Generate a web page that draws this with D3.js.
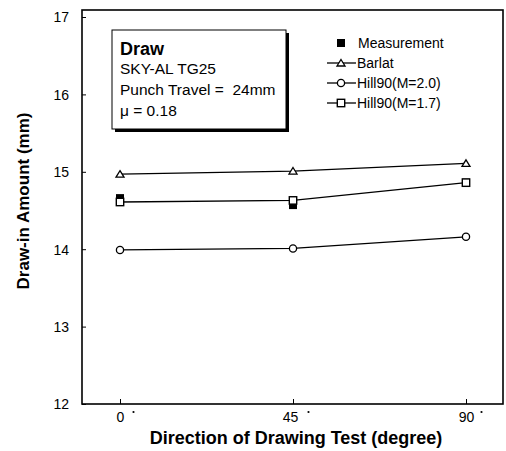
<!DOCTYPE html>
<html><head><meta charset="utf-8">
<script src="https://cdn.jsdelivr.net/npm/d3@7"></script>
<style>body{margin:0;background:#fff}svg{display:block}text{font-family:"Liberation Sans",Arial,sans-serif;fill:#000;white-space:pre}</style>
</head><body><svg id="c" width="506" height="451"></svg>
<script>
const angles = [0, 45, 90];
const measurement = [14.66, 14.57, 14.86];
const barlat = [14.97, 15.01, 15.11];
const hill20 = [13.99, 14.01, 14.16];
const hill17 = [14.61, 14.63, 14.86];
const yTicks = [12, 13, 14, 15, 16, 17];
const xTicks = [0, 45, 90];
const infoTitle = "Draw";
const infoLines = ["SKY-AL TG25", "Punch Travel =  24mm", "\u03bc = 0.18"];
const legendLabels = ["Measurement", "Barlat", "Hill90(M=2.0)", "Hill90(M=1.7)"];

const svg = d3.select("#c");
const x = d3.scaleLinear().domain([0, 90]).range([120, 466]);
const y = d3.scaleLinear().domain([12, 17]).range([404, 17]);

// frame
svg.append("rect").attr("x", 82).attr("y", 10).attr("width", 421).attr("height", 394)
  .attr("fill", "none").attr("stroke", "#000").attr("stroke-width", 1.6);

// y axis
const ya = svg.append("g").attr("transform", "translate(82,0)")
  .call(d3.axisRight(y).tickValues(yTicks).tickSize(4).tickFormat(d3.format("d")));
ya.select(".domain").remove();
ya.selectAll("line").attr("stroke-width", 1);
ya.selectAll("text").attr("x", -13).attr("text-anchor", "end").attr("font-size", 14).attr("dy", "0.35em");

// x axis
const xa = svg.append("g").attr("transform", "translate(0,404)")
  .call(d3.axisTop(x).tickValues(xTicks).tickSize(5).tickFormat(d3.format("d")));
xa.select(".domain").remove();
xa.selectAll("line").attr("stroke-width", 1);
xa.selectAll("text").attr("y", 13).attr("dy", "0.35em").attr("font-size", 14).attr("dx", d => d === 45 ? -3 : 0);
xa.selectAll(".tick").append("circle").attr("r", 1.1).attr("fill", "#000")
  .attr("cx", d => d === 0 ? 13 : 15).attr("cy", 8);

// axis titles
svg.append("text").attr("x", 296).attr("y", 444).attr("text-anchor", "middle")
  .attr("font-weight", "bold").attr("font-size", 18).text("Direction of Drawing Test (degree)");
svg.append("text").attr("transform", "translate(29,201) rotate(-90)").attr("text-anchor", "middle")
  .attr("font-weight", "bold").attr("font-size", 17).text("Draw-in Amount (mm)");

// info box with shadow
svg.append("rect").attr("x", 115).attr("y", 33).attr("width", 174).attr("height", 99).attr("fill", "#000");
svg.append("rect").attr("x", 112).attr("y", 30).attr("width", 174).attr("height", 99)
  .attr("fill", "#fff").attr("stroke", "#000").attr("stroke-width", 1);
svg.append("text").attr("x", 120).attr("y", 55).attr("font-weight", "bold").attr("font-size", 18).text(infoTitle);
svg.selectAll(".info").data(infoLines).enter().append("text")
  .attr("x", 120).attr("y", (d, i) => 74 + i * 21).attr("font-size", 15.5).text(d => d);

// lines
const line = d3.line().x((d, i) => x(angles[i])).y(d => y(d));
const series = [barlat, hill20, hill17];
svg.selectAll(".ln").data(series).enter().append("path")
  .attr("d", d => line(d)).attr("fill", "none").attr("stroke", "#000").attr("stroke-width", 1.3);

// measurement filled squares
svg.selectAll(".meas").data(measurement).enter().append("rect")
  .attr("x", (d, i) => x(angles[i]) - 4).attr("y", d => y(d) - 4)
  .attr("width", 8).attr("height", 8).attr("fill", "#000");

function triangle(g, cx, cy) {
  g.append("path").attr("d", "M0,-3.5L4,3L-4,3Z").attr("transform", `translate(${cx},${cy})`)
    .attr("fill", "#fff").attr("stroke", "#000").attr("stroke-width", 1.3);
}
function circ(g, cx, cy) {
  g.append("circle").attr("cx", cx).attr("cy", cy).attr("r", 3.6)
    .attr("fill", "#fff").attr("stroke", "#000").attr("stroke-width", 1.3);
}
function sq(g, cx, cy) {
  g.append("rect").attr("x", cx - 3.7).attr("y", cy - 3.7).attr("width", 7.4).attr("height", 7.4)
    .attr("fill", "#fff").attr("stroke", "#000").attr("stroke-width", 1.4);
}
barlat.forEach((v, i) => triangle(svg, x(angles[i]), y(v)));
hill20.forEach((v, i) => circ(svg, x(angles[i]), y(v)));
hill17.forEach((v, i) => sq(svg, x(angles[i]), y(v)));

// legend
const ly = [43, 63, 83, 103];
svg.append("rect").attr("x", 337).attr("y", ly[0] - 4).attr("width", 8).attr("height", 8).attr("fill", "#000");
[1, 2, 3].forEach(k => {
  svg.append("line").attr("x1", 327).attr("x2", 356).attr("y1", ly[k]).attr("y2", ly[k])
    .attr("stroke", "#000").attr("stroke-width", 1.3);
});
triangle(svg, 341, ly[1]);
circ(svg, 341, ly[2]);
sq(svg, 341, ly[3]);
svg.selectAll(".lg").data(legendLabels).enter().append("text")
  .attr("x", (d, i) => i === 0 ? 358 : 357).attr("y", (d, i) => ly[i]).attr("dy", "0.35em")
  .attr("font-size", 14).text(d => d);
</script></body></html>
